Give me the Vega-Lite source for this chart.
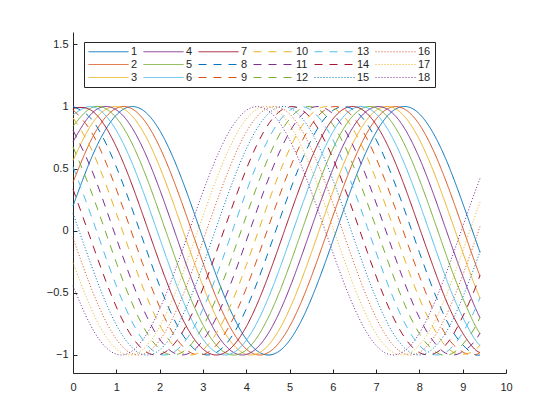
{
  "$schema": "https://vega.github.io/schema/vega-lite/v6.json",
  "width": 433,
  "height": 341,
  "autosize": {"type": "none"},
  "padding": {"left": 73, "top": 32, "right": 54, "bottom": 47},
  "background": "white",
  "config": {"view": {"stroke": null}, "font": "Liberation Sans"},
  "data": {"values": [
{"k":1,"x":0,"y":0.199},{"k":1,"x":0.4,"y":0.565},{"k":1,"x":0.8,"y":0.841},{"k":1,"x":1.2,"y":0.985},{"k":1,"x":1.6,"y":0.974},{"k":1,"x":2,"y":0.809},{"k":1,"x":2.4,"y":0.516},{"k":1,"x":2.8,"y":0.141},{"k":1,"x":3.2,"y":-0.256},{"k":1,"x":3.6,"y":-0.612},{"k":1,"x":4,"y":-0.872},{"k":1,"x":4.4,"y":-0.994},{"k":1,"x":4.8,"y":-0.959},{"k":1,"x":5.2,"y":-0.773},{"k":1,"x":5.6,"y":-0.465},{"k":1,"x":6,"y":-0.083},{"k":1,"x":6.4,"y":0.312},{"k":1,"x":6.8,"y":0.657},{"k":1,"x":7.2,"y":0.899},{"k":1,"x":7.6,"y":0.999},{"k":1,"x":8,"y":0.941},{"k":1,"x":8.4,"y":0.734},{"k":1,"x":8.8,"y":0.412},{"k":1,"x":9.2,"y":0.025},{"k":1,"x":9.4,"y":-0.174},
{"k":2,"x":0,"y":0.389},{"k":2,"x":0.4,"y":0.717},{"k":2,"x":0.8,"y":0.932},{"k":2,"x":1.2,"y":1},{"k":2,"x":1.6,"y":0.909},{"k":2,"x":2,"y":0.675},{"k":2,"x":2.4,"y":0.335},{"k":2,"x":2.8,"y":-0.058},{"k":2,"x":3.2,"y":-0.443},{"k":2,"x":3.6,"y":-0.757},{"k":2,"x":4,"y":-0.952},{"k":2,"x":4.4,"y":-0.996},{"k":2,"x":4.8,"y":-0.883},{"k":2,"x":5.2,"y":-0.631},{"k":2,"x":5.6,"y":-0.279},{"k":2,"x":6,"y":0.117},{"k":2,"x":6.4,"y":0.494},{"k":2,"x":6.8,"y":0.794},{"k":2,"x":7.2,"y":0.968},{"k":2,"x":7.6,"y":0.989},{"k":2,"x":8,"y":0.855},{"k":2,"x":8.4,"y":0.585},{"k":2,"x":8.8,"y":0.223},{"k":2,"x":9.2,"y":-0.174},{"k":2,"x":9.4,"y":-0.366},
{"k":3,"x":0,"y":0.565},{"k":3,"x":0.4,"y":0.841},{"k":3,"x":0.8,"y":0.985},{"k":3,"x":1.2,"y":0.974},{"k":3,"x":1.6,"y":0.809},{"k":3,"x":2,"y":0.516},{"k":3,"x":2.4,"y":0.141},{"k":3,"x":2.8,"y":-0.256},{"k":3,"x":3.2,"y":-0.612},{"k":3,"x":3.6,"y":-0.872},{"k":3,"x":4,"y":-0.994},{"k":3,"x":4.4,"y":-0.959},{"k":3,"x":4.8,"y":-0.773},{"k":3,"x":5.2,"y":-0.465},{"k":3,"x":5.6,"y":-0.083},{"k":3,"x":6,"y":0.312},{"k":3,"x":6.4,"y":0.657},{"k":3,"x":6.8,"y":0.899},{"k":3,"x":7.2,"y":0.999},{"k":3,"x":7.6,"y":0.941},{"k":3,"x":8,"y":0.734},{"k":3,"x":8.4,"y":0.412},{"k":3,"x":8.8,"y":0.025},{"k":3,"x":9.2,"y":-0.366},{"k":3,"x":9.4,"y":-0.544},
{"k":4,"x":0,"y":0.717},{"k":4,"x":0.4,"y":0.932},{"k":4,"x":0.8,"y":1},{"k":4,"x":1.2,"y":0.909},{"k":4,"x":1.6,"y":0.675},{"k":4,"x":2,"y":0.335},{"k":4,"x":2.4,"y":-0.058},{"k":4,"x":2.8,"y":-0.443},{"k":4,"x":3.2,"y":-0.757},{"k":4,"x":3.6,"y":-0.952},{"k":4,"x":4,"y":-0.996},{"k":4,"x":4.4,"y":-0.883},{"k":4,"x":4.8,"y":-0.631},{"k":4,"x":5.2,"y":-0.279},{"k":4,"x":5.6,"y":0.117},{"k":4,"x":6,"y":0.494},{"k":4,"x":6.4,"y":0.794},{"k":4,"x":6.8,"y":0.968},{"k":4,"x":7.2,"y":0.989},{"k":4,"x":7.6,"y":0.855},{"k":4,"x":8,"y":0.585},{"k":4,"x":8.4,"y":0.223},{"k":4,"x":8.8,"y":-0.174},{"k":4,"x":9.2,"y":-0.544},{"k":4,"x":9.4,"y":-0.7},
{"k":5,"x":0,"y":0.841},{"k":5,"x":0.4,"y":0.985},{"k":5,"x":0.8,"y":0.974},{"k":5,"x":1.2,"y":0.809},{"k":5,"x":1.6,"y":0.516},{"k":5,"x":2,"y":0.141},{"k":5,"x":2.4,"y":-0.256},{"k":5,"x":2.8,"y":-0.612},{"k":5,"x":3.2,"y":-0.872},{"k":5,"x":3.6,"y":-0.994},{"k":5,"x":4,"y":-0.959},{"k":5,"x":4.4,"y":-0.773},{"k":5,"x":4.8,"y":-0.465},{"k":5,"x":5.2,"y":-0.083},{"k":5,"x":5.6,"y":0.312},{"k":5,"x":6,"y":0.657},{"k":5,"x":6.4,"y":0.899},{"k":5,"x":6.8,"y":0.999},{"k":5,"x":7.2,"y":0.941},{"k":5,"x":7.6,"y":0.734},{"k":5,"x":8,"y":0.412},{"k":5,"x":8.4,"y":0.025},{"k":5,"x":8.8,"y":-0.366},{"k":5,"x":9.2,"y":-0.7},{"k":5,"x":9.4,"y":-0.828},
{"k":6,"x":0,"y":0.932},{"k":6,"x":0.4,"y":1},{"k":6,"x":0.8,"y":0.909},{"k":6,"x":1.2,"y":0.675},{"k":6,"x":1.6,"y":0.335},{"k":6,"x":2,"y":-0.058},{"k":6,"x":2.4,"y":-0.443},{"k":6,"x":2.8,"y":-0.757},{"k":6,"x":3.2,"y":-0.952},{"k":6,"x":3.6,"y":-0.996},{"k":6,"x":4,"y":-0.883},{"k":6,"x":4.4,"y":-0.631},{"k":6,"x":4.8,"y":-0.279},{"k":6,"x":5.2,"y":0.117},{"k":6,"x":5.6,"y":0.494},{"k":6,"x":6,"y":0.794},{"k":6,"x":6.4,"y":0.968},{"k":6,"x":6.8,"y":0.989},{"k":6,"x":7.2,"y":0.855},{"k":6,"x":7.6,"y":0.585},{"k":6,"x":8,"y":0.223},{"k":6,"x":8.4,"y":-0.174},{"k":6,"x":8.8,"y":-0.544},{"k":6,"x":9.2,"y":-0.828},{"k":6,"x":9.4,"y":-0.923},
{"k":7,"x":0,"y":0.985},{"k":7,"x":0.4,"y":0.974},{"k":7,"x":0.8,"y":0.809},{"k":7,"x":1.2,"y":0.516},{"k":7,"x":1.6,"y":0.141},{"k":7,"x":2,"y":-0.256},{"k":7,"x":2.4,"y":-0.612},{"k":7,"x":2.8,"y":-0.872},{"k":7,"x":3.2,"y":-0.994},{"k":7,"x":3.6,"y":-0.959},{"k":7,"x":4,"y":-0.773},{"k":7,"x":4.4,"y":-0.465},{"k":7,"x":4.8,"y":-0.083},{"k":7,"x":5.2,"y":0.312},{"k":7,"x":5.6,"y":0.657},{"k":7,"x":6,"y":0.899},{"k":7,"x":6.4,"y":0.999},{"k":7,"x":6.8,"y":0.941},{"k":7,"x":7.2,"y":0.734},{"k":7,"x":7.6,"y":0.412},{"k":7,"x":8,"y":0.025},{"k":7,"x":8.4,"y":-0.366},{"k":7,"x":8.8,"y":-0.7},{"k":7,"x":9.2,"y":-0.923},{"k":7,"x":9.4,"y":-0.981},
{"k":8,"x":0,"y":1},{"k":8,"x":0.4,"y":0.909},{"k":8,"x":0.8,"y":0.675},{"k":8,"x":1.2,"y":0.335},{"k":8,"x":1.6,"y":-0.058},{"k":8,"x":2,"y":-0.443},{"k":8,"x":2.4,"y":-0.757},{"k":8,"x":2.8,"y":-0.952},{"k":8,"x":3.2,"y":-0.996},{"k":8,"x":3.6,"y":-0.883},{"k":8,"x":4,"y":-0.631},{"k":8,"x":4.4,"y":-0.279},{"k":8,"x":4.8,"y":0.117},{"k":8,"x":5.2,"y":0.494},{"k":8,"x":5.6,"y":0.794},{"k":8,"x":6,"y":0.968},{"k":8,"x":6.4,"y":0.989},{"k":8,"x":6.8,"y":0.855},{"k":8,"x":7.2,"y":0.585},{"k":8,"x":7.6,"y":0.223},{"k":8,"x":8,"y":-0.174},{"k":8,"x":8.4,"y":-0.544},{"k":8,"x":8.8,"y":-0.828},{"k":8,"x":9.2,"y":-0.981},{"k":8,"x":9.4,"y":-1},
{"k":9,"x":0,"y":0.974},{"k":9,"x":0.4,"y":0.809},{"k":9,"x":0.8,"y":0.516},{"k":9,"x":1.2,"y":0.141},{"k":9,"x":1.6,"y":-0.256},{"k":9,"x":2,"y":-0.612},{"k":9,"x":2.4,"y":-0.872},{"k":9,"x":2.8,"y":-0.994},{"k":9,"x":3.2,"y":-0.959},{"k":9,"x":3.6,"y":-0.773},{"k":9,"x":4,"y":-0.465},{"k":9,"x":4.4,"y":-0.083},{"k":9,"x":4.8,"y":0.312},{"k":9,"x":5.2,"y":0.657},{"k":9,"x":5.6,"y":0.899},{"k":9,"x":6,"y":0.999},{"k":9,"x":6.4,"y":0.941},{"k":9,"x":6.8,"y":0.734},{"k":9,"x":7.2,"y":0.412},{"k":9,"x":7.6,"y":0.025},{"k":9,"x":8,"y":-0.366},{"k":9,"x":8.4,"y":-0.7},{"k":9,"x":8.8,"y":-0.923},{"k":9,"x":9.2,"y":-1},{"k":9,"x":9.4,"y":-0.979},
{"k":10,"x":0,"y":0.909},{"k":10,"x":0.4,"y":0.675},{"k":10,"x":0.8,"y":0.335},{"k":10,"x":1.2,"y":-0.058},{"k":10,"x":1.6,"y":-0.443},{"k":10,"x":2,"y":-0.757},{"k":10,"x":2.4,"y":-0.952},{"k":10,"x":2.8,"y":-0.996},{"k":10,"x":3.2,"y":-0.883},{"k":10,"x":3.6,"y":-0.631},{"k":10,"x":4,"y":-0.279},{"k":10,"x":4.4,"y":0.117},{"k":10,"x":4.8,"y":0.494},{"k":10,"x":5.2,"y":0.794},{"k":10,"x":5.6,"y":0.968},{"k":10,"x":6,"y":0.989},{"k":10,"x":6.4,"y":0.855},{"k":10,"x":6.8,"y":0.585},{"k":10,"x":7.2,"y":0.223},{"k":10,"x":7.6,"y":-0.174},{"k":10,"x":8,"y":-0.544},{"k":10,"x":8.4,"y":-0.828},{"k":10,"x":8.8,"y":-0.981},{"k":10,"x":9.2,"y":-0.979},{"k":10,"x":9.4,"y":-0.919},
{"k":11,"x":0,"y":0.809},{"k":11,"x":0.4,"y":0.516},{"k":11,"x":0.8,"y":0.141},{"k":11,"x":1.2,"y":-0.256},{"k":11,"x":1.6,"y":-0.612},{"k":11,"x":2,"y":-0.872},{"k":11,"x":2.4,"y":-0.994},{"k":11,"x":2.8,"y":-0.959},{"k":11,"x":3.2,"y":-0.773},{"k":11,"x":3.6,"y":-0.465},{"k":11,"x":4,"y":-0.083},{"k":11,"x":4.4,"y":0.312},{"k":11,"x":4.8,"y":0.657},{"k":11,"x":5.2,"y":0.899},{"k":11,"x":5.6,"y":0.999},{"k":11,"x":6,"y":0.941},{"k":11,"x":6.4,"y":0.734},{"k":11,"x":6.8,"y":0.412},{"k":11,"x":7.2,"y":0.025},{"k":11,"x":7.6,"y":-0.366},{"k":11,"x":8,"y":-0.7},{"k":11,"x":8.4,"y":-0.923},{"k":11,"x":8.8,"y":-1},{"k":11,"x":9.2,"y":-0.919},{"k":11,"x":9.4,"y":-0.824},
{"k":12,"x":0,"y":0.675},{"k":12,"x":0.4,"y":0.335},{"k":12,"x":0.8,"y":-0.058},{"k":12,"x":1.2,"y":-0.443},{"k":12,"x":1.6,"y":-0.757},{"k":12,"x":2,"y":-0.952},{"k":12,"x":2.4,"y":-0.996},{"k":12,"x":2.8,"y":-0.883},{"k":12,"x":3.2,"y":-0.631},{"k":12,"x":3.6,"y":-0.279},{"k":12,"x":4,"y":0.117},{"k":12,"x":4.4,"y":0.494},{"k":12,"x":4.8,"y":0.794},{"k":12,"x":5.2,"y":0.968},{"k":12,"x":5.6,"y":0.989},{"k":12,"x":6,"y":0.855},{"k":12,"x":6.4,"y":0.585},{"k":12,"x":6.8,"y":0.223},{"k":12,"x":7.2,"y":-0.174},{"k":12,"x":7.6,"y":-0.544},{"k":12,"x":8,"y":-0.828},{"k":12,"x":8.4,"y":-0.981},{"k":12,"x":8.8,"y":-0.979},{"k":12,"x":9.2,"y":-0.824},{"k":12,"x":9.4,"y":-0.696},
{"k":13,"x":0,"y":0.516},{"k":13,"x":0.4,"y":0.141},{"k":13,"x":0.8,"y":-0.256},{"k":13,"x":1.2,"y":-0.612},{"k":13,"x":1.6,"y":-0.872},{"k":13,"x":2,"y":-0.994},{"k":13,"x":2.4,"y":-0.959},{"k":13,"x":2.8,"y":-0.773},{"k":13,"x":3.2,"y":-0.465},{"k":13,"x":3.6,"y":-0.083},{"k":13,"x":4,"y":0.312},{"k":13,"x":4.4,"y":0.657},{"k":13,"x":4.8,"y":0.899},{"k":13,"x":5.2,"y":0.999},{"k":13,"x":5.6,"y":0.941},{"k":13,"x":6,"y":0.734},{"k":13,"x":6.4,"y":0.412},{"k":13,"x":6.8,"y":0.025},{"k":13,"x":7.2,"y":-0.366},{"k":13,"x":7.6,"y":-0.7},{"k":13,"x":8,"y":-0.923},{"k":13,"x":8.4,"y":-1},{"k":13,"x":8.8,"y":-0.919},{"k":13,"x":9.2,"y":-0.696},{"k":13,"x":9.4,"y":-0.537},
{"k":14,"x":0,"y":0.335},{"k":14,"x":0.4,"y":-0.058},{"k":14,"x":0.8,"y":-0.443},{"k":14,"x":1.2,"y":-0.757},{"k":14,"x":1.6,"y":-0.952},{"k":14,"x":2,"y":-0.996},{"k":14,"x":2.4,"y":-0.883},{"k":14,"x":2.8,"y":-0.631},{"k":14,"x":3.2,"y":-0.279},{"k":14,"x":3.6,"y":0.117},{"k":14,"x":4,"y":0.494},{"k":14,"x":4.4,"y":0.794},{"k":14,"x":4.8,"y":0.968},{"k":14,"x":5.2,"y":0.989},{"k":14,"x":5.6,"y":0.855},{"k":14,"x":6,"y":0.585},{"k":14,"x":6.4,"y":0.223},{"k":14,"x":6.8,"y":-0.174},{"k":14,"x":7.2,"y":-0.544},{"k":14,"x":7.6,"y":-0.828},{"k":14,"x":8,"y":-0.981},{"k":14,"x":8.4,"y":-0.979},{"k":14,"x":8.8,"y":-0.824},{"k":14,"x":9.2,"y":-0.537},{"k":14,"x":9.4,"y":-0.358},
{"k":15,"x":0,"y":0.141},{"k":15,"x":0.4,"y":-0.256},{"k":15,"x":0.8,"y":-0.612},{"k":15,"x":1.2,"y":-0.872},{"k":15,"x":1.6,"y":-0.994},{"k":15,"x":2,"y":-0.959},{"k":15,"x":2.4,"y":-0.773},{"k":15,"x":2.8,"y":-0.465},{"k":15,"x":3.2,"y":-0.083},{"k":15,"x":3.6,"y":0.312},{"k":15,"x":4,"y":0.657},{"k":15,"x":4.4,"y":0.899},{"k":15,"x":4.8,"y":0.999},{"k":15,"x":5.2,"y":0.941},{"k":15,"x":5.6,"y":0.734},{"k":15,"x":6,"y":0.412},{"k":15,"x":6.4,"y":0.025},{"k":15,"x":6.8,"y":-0.366},{"k":15,"x":7.2,"y":-0.7},{"k":15,"x":7.6,"y":-0.923},{"k":15,"x":8,"y":-1},{"k":15,"x":8.4,"y":-0.919},{"k":15,"x":8.8,"y":-0.696},{"k":15,"x":9.2,"y":-0.358},{"k":15,"x":9.4,"y":-0.166},
{"k":16,"x":0,"y":-0.058},{"k":16,"x":0.4,"y":-0.443},{"k":16,"x":0.8,"y":-0.757},{"k":16,"x":1.2,"y":-0.952},{"k":16,"x":1.6,"y":-0.996},{"k":16,"x":2,"y":-0.883},{"k":16,"x":2.4,"y":-0.631},{"k":16,"x":2.8,"y":-0.279},{"k":16,"x":3.2,"y":0.117},{"k":16,"x":3.6,"y":0.494},{"k":16,"x":4,"y":0.794},{"k":16,"x":4.4,"y":0.968},{"k":16,"x":4.8,"y":0.989},{"k":16,"x":5.2,"y":0.855},{"k":16,"x":5.6,"y":0.585},{"k":16,"x":6,"y":0.223},{"k":16,"x":6.4,"y":-0.174},{"k":16,"x":6.8,"y":-0.544},{"k":16,"x":7.2,"y":-0.828},{"k":16,"x":7.6,"y":-0.981},{"k":16,"x":8,"y":-0.979},{"k":16,"x":8.4,"y":-0.824},{"k":16,"x":8.8,"y":-0.537},{"k":16,"x":9.2,"y":-0.166},{"k":16,"x":9.4,"y":0.034},
{"k":17,"x":0,"y":-0.256},{"k":17,"x":0.4,"y":-0.612},{"k":17,"x":0.8,"y":-0.872},{"k":17,"x":1.2,"y":-0.994},{"k":17,"x":1.6,"y":-0.959},{"k":17,"x":2,"y":-0.773},{"k":17,"x":2.4,"y":-0.465},{"k":17,"x":2.8,"y":-0.083},{"k":17,"x":3.2,"y":0.312},{"k":17,"x":3.6,"y":0.657},{"k":17,"x":4,"y":0.899},{"k":17,"x":4.4,"y":0.999},{"k":17,"x":4.8,"y":0.941},{"k":17,"x":5.2,"y":0.734},{"k":17,"x":5.6,"y":0.412},{"k":17,"x":6,"y":0.025},{"k":17,"x":6.4,"y":-0.366},{"k":17,"x":6.8,"y":-0.7},{"k":17,"x":7.2,"y":-0.923},{"k":17,"x":7.6,"y":-1},{"k":17,"x":8,"y":-0.919},{"k":17,"x":8.4,"y":-0.696},{"k":17,"x":8.8,"y":-0.358},{"k":17,"x":9.2,"y":0.034},{"k":17,"x":9.4,"y":0.232},
{"k":18,"x":0,"y":-0.443},{"k":18,"x":0.4,"y":-0.757},{"k":18,"x":0.8,"y":-0.952},{"k":18,"x":1.2,"y":-0.996},{"k":18,"x":1.6,"y":-0.883},{"k":18,"x":2,"y":-0.631},{"k":18,"x":2.4,"y":-0.279},{"k":18,"x":2.8,"y":0.117},{"k":18,"x":3.2,"y":0.494},{"k":18,"x":3.6,"y":0.794},{"k":18,"x":4,"y":0.968},{"k":18,"x":4.4,"y":0.989},{"k":18,"x":4.8,"y":0.855},{"k":18,"x":5.2,"y":0.585},{"k":18,"x":5.6,"y":0.223},{"k":18,"x":6,"y":-0.174},{"k":18,"x":6.4,"y":-0.544},{"k":18,"x":6.8,"y":-0.828},{"k":18,"x":7.2,"y":-0.981},{"k":18,"x":7.6,"y":-0.979},{"k":18,"x":8,"y":-0.824},{"k":18,"x":8.4,"y":-0.537},{"k":18,"x":8.8,"y":-0.166},{"k":18,"x":9.2,"y":0.232},{"k":18,"x":9.4,"y":0.42}
  ]},
  "mark": {"type": "line", "strokeWidth": 1, "interpolate": "natural"},
  "encoding": {
    "x": {"field": "x", "type": "quantitative",
      "scale": {"domain": [0, 10], "nice": false},
      "axis": {"title": null, "values": [0,1,2,3,4,5,6,7,8,9,10], "grid": false, "labelFlush": false,
        "tickSize": -4, "labelPadding": 12, "labelFontSize": 11, "labelFont": "Liberation Sans",
        "labelColor": "#262626", "tickColor": "#262626", "domainColor": "#262626", "domainWidth": 1, "tickWidth": 1}},
    "y": {"field": "y", "type": "quantitative",
      "scale": {"domain": [-1.145, 1.6], "nice": false, "zero": false},
      "axis": {"title": null, "values": [-1,-0.5,0,0.5,1,1.5], "format": "~g", "grid": false,
        "tickSize": -4, "labelPadding": 9, "labelFontSize": 11, "labelFont": "Liberation Sans",
        "labelColor": "#262626", "tickColor": "#262626", "domainColor": "#262626", "domainWidth": 1, "tickWidth": 1}},
    "color": {"field": "k", "type": "nominal",
      "scale": {"domain": [1,2,3,4,5,6,7,8,9,10,11,12,13,14,15,16,17,18],
        "range": ["#0072BD","#D95319","#EDB120","#7E2F8E","#77AC30","#4DBEEE","#A2142F","#0072BD","#D95319","#EDB120","#7E2F8E","#77AC30","#4DBEEE","#A2142F","#0072BD","#D95319","#EDB120","#7E2F8E"]},
      "legend": {"title": null, "orient": "none", "legendX": 11, "legendY": 10, "columns": 6,
        "symbolType": "M-1.25,0H8.75", "symbolSize": 64, "symbolStrokeWidth": 1, "symbolOffset": 0,
        "labelOffset": 32, "labelFontSize": 11, "labelFont": "Liberation Sans", "labelColor": "#262626",
        "columnPadding": 3, "rowPadding": 1, "padding": 4, "strokeColor": "#262626", "fillColor": "white"}},
    "strokeDash": {"field": "k", "type": "nominal",
      "scale": {"domain": [1,2,3,4,5,6,7,8,9,10,11,12,13,14,15,16,17,18],
        "range": [[1,0],[1,0],[1,0],[1,0],[1,0],[1,0],[1,0],[8,7],[8,7],[8,7],[8,7],[8,7],[8,7],[8,7],[1,2],[1,2],[1,2],[1,2]]},
      "legend": {"title": null, "orient": "none", "legendX": 11, "legendY": 10, "columns": 6,
        "symbolType": "M-1.25,0H8.75", "symbolSize": 64, "symbolStrokeWidth": 1, "symbolOffset": 0,
        "labelOffset": 32, "labelFontSize": 11, "labelFont": "Liberation Sans", "labelColor": "#262626",
        "columnPadding": 3, "rowPadding": 1, "padding": 4, "strokeColor": "#262626", "fillColor": "white"}}
  }
}
